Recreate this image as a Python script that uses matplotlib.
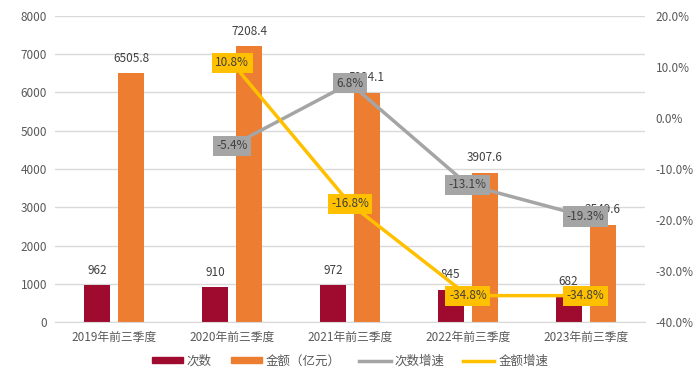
import numpy as np
import matplotlib.pyplot as plt
from matplotlib.lines import Line2D
from matplotlib.patches import Patch

plt.rcParams['font.family'] = ['Noto Sans CJK SC', 'DejaVu Sans']

categories = ['2019年前三季度', '2020年前三季度', '2021年前三季度', '2022年前三季度', '2023年前三季度']
counts = [962, 910, 972, 845, 682]
amounts = [6505.8, 7208.4, 5994.1, 3907.6, 2549.6]
count_growth = [None, -5.4, 6.8, -13.1, -19.3]
amount_growth = [None, 10.8, -16.8, -34.8, -34.8]

c_red = '#9e0b2e'
c_orange = '#ed7d31'
c_gray = '#a5a5a5'
c_yellow = '#ffc000'
c_text = '#595959'

fig = plt.figure(figsize=(7, 3.79), dpi=100)
ax = fig.add_axes([0.079, 0.150, 0.842, 0.808])
ax2 = ax.twinx()

x = np.arange(len(categories))
w = 0.22
off = 0.145
ax.bar(x - off, counts, w, color=c_red, zorder=2)
ax.bar(x + off, amounts, w, color=c_orange, zorder=2)

for xi, v in zip(x, counts):
    ax.annotate(f'{v}', (xi - off, v), xytext=(0, 6), textcoords='offset points',
                ha='center', va='bottom', fontsize=8.5, color='#404040')
for xi, v in zip(x, amounts):
    ax.annotate(f'{v}', (xi + off, v), xytext=(0, 6), textcoords='offset points',
                ha='center', va='bottom', fontsize=8.5, color='#404040')

ax.set_xlim(-0.5, len(categories) - 0.5)
ax.set_ylim(0, 8000)
ax.set_yticks(range(0, 8001, 1000))
ax.set_xticks(x)
ax.set_xticklabels(categories)
ax.grid(axis='y', color='#d9d9d9', linewidth=1, zorder=0)
ax.set_axisbelow(True)
for s in ax.spines.values():
    s.set_visible(False)
ax.spines['bottom'].set_visible(True)
ax.spines['bottom'].set_color('#d9d9d9')
ax.tick_params(length=0, labelsize=8.5, labelcolor=c_text, pad=6)

gx = x[1:]
ax2.plot(gx, count_growth[1:], color=c_gray, linewidth=2.5, zorder=3)
ax2.plot(gx, amount_growth[1:], color=c_yellow, linewidth=2.5, zorder=3)
for xi, v in zip(gx, count_growth[1:]):
    ax2.text(xi, v, f'{v}%', ha='center', va='center', fontsize=8.5, color='#404040', zorder=5,
             bbox=dict(boxstyle='square,pad=0.3', facecolor=c_gray, edgecolor='none'))
for xi, v in zip(gx, amount_growth[1:]):
    ax2.text(xi, v, f'{v}%', ha='center', va='center', fontsize=8.5, color='#404040', zorder=5,
             bbox=dict(boxstyle='square,pad=0.3', facecolor=c_yellow, edgecolor='none'))

ax2.set_ylim(-40, 20)
ax2.set_yticks(range(-40, 21, 10))
ax2.set_yticklabels([f'{t:.1f}%' for t in range(-40, 21, 10)])
for s in ax2.spines.values():
    s.set_visible(False)
ax2.tick_params(length=0, labelsize=8.5, labelcolor=c_text, pad=8)

handles = [Patch(color=c_red), Patch(color=c_orange),
           Line2D([], [], color=c_gray, linewidth=2.5), Line2D([], [], color=c_yellow, linewidth=2.5)]
labels = ['次数', '金额（亿元）', '次数增速', '金额增速']
fig.legend(handles, labels, loc='lower center', bbox_to_anchor=(0.5, 0.0), ncol=4, frameon=False,
           fontsize=9, labelcolor=c_text, handlelength=2.5, handleheight=0.4, columnspacing=1.5,
           handletextpad=0.3)

fig.savefig('out.png', dpi=100)
